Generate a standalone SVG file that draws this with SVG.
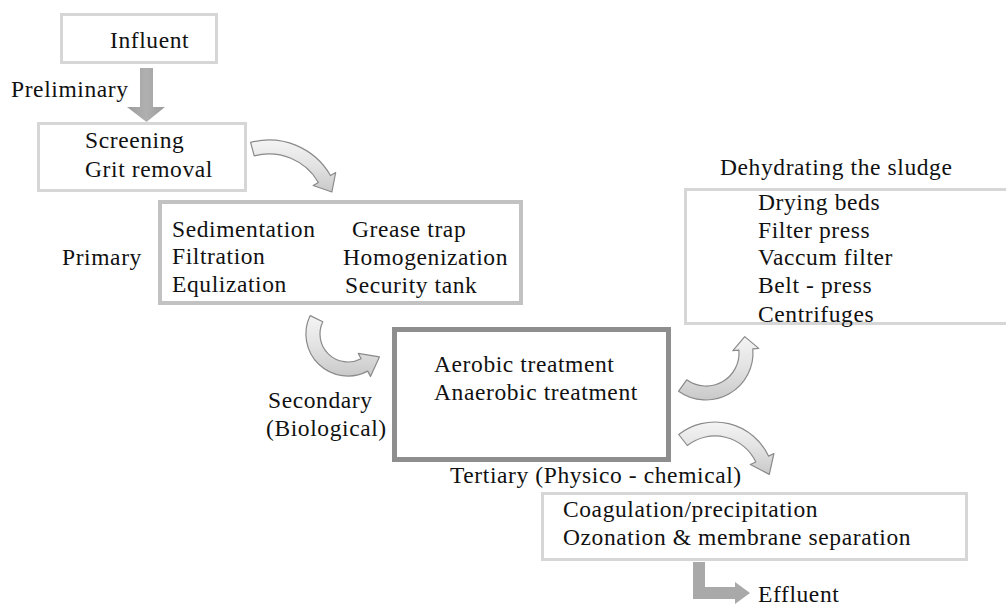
<svg xmlns="http://www.w3.org/2000/svg" width="1006" height="605" viewBox="0 0 1006 605">
<defs>
<style>
text{font-family:"Liberation Serif","Times New Roman",serif;font-size:23.5px;letter-spacing:0.6px;fill:#111}
.box{fill:#fff}
.light{stroke:#d6d6d6;stroke-width:3}
.mid{stroke:#c2c2c2;stroke-width:4}
.dark{stroke:#8e8e8e;stroke-width:5}
.curve{fill:url(#cg);stroke:#8a8a8a;stroke-width:1.2;stroke-linejoin:round}
.straight{fill:url(#sg);stroke:none}
</style>
<linearGradient id="cg" x1="0" y1="0" x2="0" y2="1">
<stop offset="0" stop-color="#f4f4f4"/>
<stop offset="0.5" stop-color="#e2e2e2"/>
<stop offset="1" stop-color="#c9c9c9"/>
</linearGradient>
<linearGradient id="sg" x1="0" y1="0" x2="1" y2="0">
<stop offset="0" stop-color="#9c9c9c"/>
<stop offset="0.5" stop-color="#b0b0b0"/>
<stop offset="1" stop-color="#9c9c9c"/>
</linearGradient>
</defs>
<rect width="1006" height="605" fill="#fff"/>

<g id="connectors">
<polygon class="straight" points="140,68 153,68 153,107 165,107 146.5,122 127,107 140,107"/>
<path class="curve" d="M254.2,155.9 A57,57 0 0 1 318.4,182.5 L313.2,185.5 L331.9,192 L335.7,172.5 L330.5,175.5 A71,71 0 0 0 250.6,142.4 Z"/>
<path class="curve" d="M322.8,321.7 A28,28 0 0 0 361.1,358.7 L358.3,353.4 L379.4,356.9 L370.5,376.4 L367.7,371.1 A42,42 0 0 1 310.2,315.6 Z"/>
<path class="curve" d="M686.7,379.8 A33,33 0 0 0 738.9,350.1 L732.9,350.6 L744.7,336.6 L758.8,348.4 L752.8,348.9 A47,47 0 0 1 678.6,391.2 Z"/>
<path class="curve" d="M687.3,445.5 A45,45 0 0 1 755.8,462.0 L750.3,464.5 L769.3,474.4 L773.9,453.5 L768.5,456.1 A59,59 0 0 0 678.7,434.5 Z"/>
<polygon fill="#a9a9a9" points="693,562 705,562 705,587 735,587 735,582 750,593 735,604 735,599 693,599"/>
</g>

<g id="stage-labels">
<text x="11" y="97">Preliminary</text>
<text x="62" y="265">Primary</text>
<text x="268" y="408">Secondary</text>
<text x="266" y="436">(Biological)</text>
<text x="450" y="483">Tertiary (Physico - chemical)</text>
</g>

<g id="influent">
<rect class="box light" x="61.5" y="14.5" width="155" height="48"/>
<text x="110" y="48">Influent</text>
</g>

<g id="screening">
<rect class="box light" x="38.5" y="123.5" width="207" height="67"/>
<text x="85" y="148">Screening</text>
<text x="85" y="177">Grit removal</text>
</g>

<g id="primary">
<rect class="box mid" x="160" y="202" width="361" height="101"/>
<text x="172" y="237">Sedimentation</text>
<text x="172" y="264">Filtration</text>
<text x="172" y="292">Equlization</text>
<text x="352" y="237">Grease trap</text>
<text x="343" y="265">Homogenization</text>
<text x="345" y="293">Security tank</text>
</g>

<g id="secondary">
<rect class="box dark" x="394.5" y="329.5" width="274" height="130"/>
<text x="434" y="372">Aerobic treatment</text>
<text x="434" y="400">Anaerobic treatment</text>
</g>

<g id="dehydrating">
<text x="720" y="175">Dehydrating the sludge</text>
<rect class="box light" x="685.5" y="189.5" width="330" height="134"/>
<text x="758" y="210">Drying beds</text>
<text x="758" y="238">Filter press</text>
<text x="758" y="265">Vaccum filter</text>
<text x="758" y="293">Belt - press</text>
<text x="758" y="322">Centrifuges</text>
</g>

<g id="tertiary">
<rect class="box light" x="542.5" y="493.5" width="424" height="66"/>
<text x="563" y="517">Coagulation/precipitation</text>
<text x="563" y="545">Ozonation &amp; membrane separation</text>
</g>

<g id="effluent">
<text x="758" y="602">Effluent</text>
</g>
</svg>
